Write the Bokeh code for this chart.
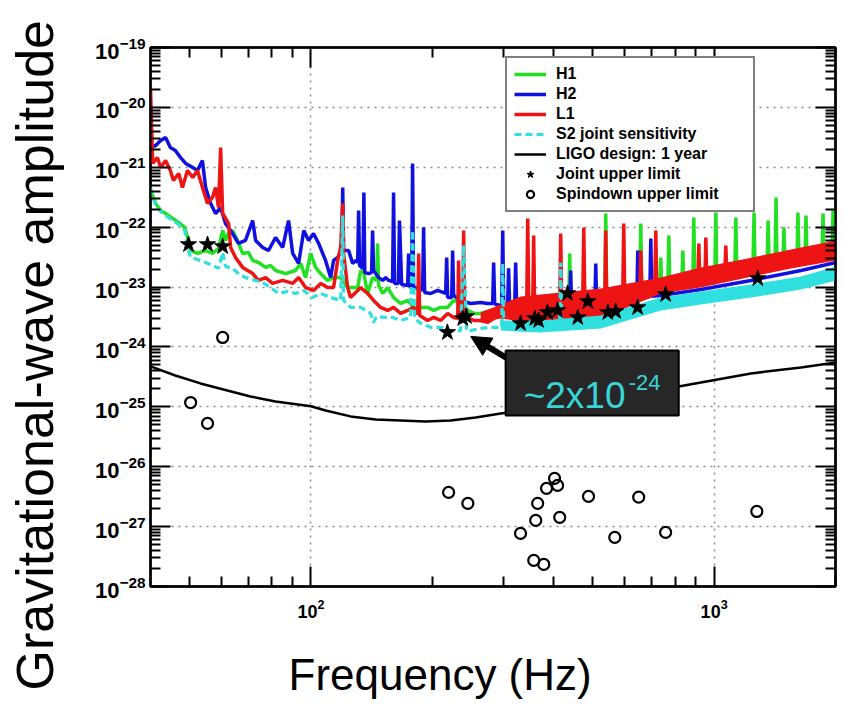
from bokeh.plotting import figure
from bokeh.models import (Range1d, FixedTicker, LogAxis, CustomJSTickFormatter, Legend,
                          LegendItem, Label, BoxAnnotation, Arrow, NormalHead, Title)
from bokeh.embed import file_html
from bokeh.resources import INLINE

# ---------------- data ----------------
h1_freq = [40.0, 41.2, 42.4, 43.6, 45.4, 47.0, 48.6, 49.7, 50.3, 52.3, 54.8, 57.0, 59.0, 60.4, 61.4, 62.5,
           63.9, 65.4, 67.7, 70.0, 71.7, 74.1, 77.2, 79.4, 81.7, 86.5, 91.6, 94.3, 97.0, 99.8, 102.7, 105.7,
           110.0, 113.8, 118.5, 123.3, 130.6, 132.8, 135.3, 138.2, 142.2, 145.5, 146.3, 147.2, 150.7, 155.0,
           160.3, 166.9, 173.7, 179.7, 187.1, 194.7, 201.5, 209.7, 218.3, 225.9, 235.1, 245.4, 253.3, 263.6,
           279.1, 295.5, 416.4, 436.0, 438.3, 440.8, 535.4, 538.5, 541.6, 654.0, 657.8, 661.6, 733.2, 737.4,
           741.6, 767.6, 772.0, 776.4, 831.5, 836.3, 841.1, 885.5, 890.5, 895.6, 1004, 1010, 1015, 1125, 1132,
           1138, 1248, 1256, 1263, 1353, 1361, 1369, 1416, 1424, 1432, 1482, 1490, 1499, 1605, 1614, 1624,
           1680, 1690, 1700, 1852, 1862, 1873, 1961, 1972, 2006]
h1_amp = [4.10e-22, 2.49e-22, 1.90e-22, 1.69e-22, 1.40e-22, 1.19e-22, 9.91e-23, 6.00e-23, 4.08e-23, 3.64e-23,
          4.08e-23, 3.64e-23, 4.41e-23, 8.81e-23, 6.00e-23, 8.16e-23, 8.81e-23, 6.48e-23, 3.64e-23, 3.78e-23,
          2.78e-23, 2.57e-23, 2.13e-23, 2.30e-23, 1.89e-23, 1.68e-23, 1.89e-23, 2.48e-23, 1.44e-23, 3.64e-23,
          2.13e-23, 1.68e-23, 1.29e-23, 1.44e-23, 1.44e-23, 9.8e-24, 9.8e-24, 1.89e-23, 1.68e-23, 7.81e-24,
          1.44e-23, 1.29e-23, 5.35e-23, 1.06e-23, 7.81e-24, 9.8e-24, 6.70e-24, 5.32e-24, 5.97e-24, 4.57e-24,
          4.57e-24, 4.57e-24, 4.07e-24, 4.57e-24, 4.57e-24, 5.97e-24, 5.32e-24, 4.07e-24, 3.63e-24, 3.63e-24,
          4.07e-24, 4.23e-24, 4.57e-24, 4.74e-24, 3.64e-23, 4.74e-24, 5.32e-24, 1.69e-22, 5.32e-24, 7.81e-24,
          1.15e-22, 7.81e-24, 9.8e-24, 3.12e-23, 9.8e-24, 1.06e-23, 7.27e-23, 1.06e-23, 1.15e-23, 4.08e-23,
          1.15e-23, 1.24e-23, 1.45e-22, 1.24e-23, 1.50e-23, 1.76e-22, 1.50e-23, 1.75e-23, 1.45e-22, 1.75e-23,
          1.96e-23, 1.76e-22, 1.96e-23, 2.30e-23, 1.29e-22, 2.30e-23, 2.48e-23, 3.13e-22, 2.48e-23, 2.57e-23,
          9.91e-23, 2.57e-23, 2.78e-23, 1.76e-22, 2.78e-23, 3.12e-23, 1.57e-22, 3.12e-23, 3.50e-23, 1.69e-22,
          3.50e-23, 3.78e-23, 1.90e-22, 3.78e-23]

h2_freq = [40.0, 41.2, 42.4, 43.6, 44.8, 46.1, 47.5, 48.9, 50.9, 52.3, 53.8, 54.8, 56.4, 58.0, 59.7, 61.4,
           63.9, 66.1, 68.8, 71.7, 72.9, 75.9, 78.5, 81.7, 85.1, 88.0, 90.1, 93.2, 96.0, 98.7, 101.5, 104.5,
           108.7, 111.9, 113.8, 116.5, 119.2, 119.9, 120.5, 124.0, 126.9, 129.1, 130.6, 131.3, 132.0, 134.5,
           135.3, 136.0, 139.0, 141.4, 142.2, 143.0, 147.2, 150.7, 153.2, 155.9, 159.4, 160.3, 161.2, 164.8,
           165.8, 167.9, 173.7, 174.7, 175.7, 177.7, 178.7, 179.7, 187.1, 189.2, 190.3, 191.4, 198.1, 206.2,
           215.8, 217.1, 218.3, 223.4, 224.6, 225.9, 235.1, 248.9, 263.6, 274.4, 282.3, 283.9, 285.6, 295.5,
           297.2, 299.0, 300.7, 307.4, 309.2, 311.1, 320.1, 321.9, 323.8, 371.4, 438.3, 440.8, 443.3, 505.7,
           508.6, 511.5, 642.9, 646.6, 650.3, 692.5, 696.5, 700.5, 737.4, 926.9, 1234, 1642, 2006]
h2_amp = [2.14e-21, 2.31e-21, 2.80e-21, 3.15e-21, 2.14e-21, 1.91e-21, 1.45e-21, 1.16e-21, 9.9e-22, 8.85e-22,
          1.30e-21, 4.60e-22, 2.49e-22, 1.69e-22, 2.13e-22, 1.15e-22, 7.85e-23, 5.35e-23, 6.00e-23, 1.29e-22,
          6.00e-23, 4.58e-23, 4.08e-23, 6.73e-23, 4.58e-23, 1.29e-22, 3.64e-23, 2.48e-23, 8.81e-23, 6.00e-23,
          7.85e-23, 5.35e-23, 2.78e-23, 1.44e-23, 2.78e-23, 3.12e-23, 4.08e-23, 4.60e-22, 4.08e-23, 4.08e-23,
          2.48e-23, 2.78e-23, 2.57e-23, 1.90e-22, 2.30e-23, 2.05e-23, 3.80e-22, 1.75e-23, 1.68e-23, 1.75e-23,
          8.81e-23, 1.89e-23, 1.44e-23, 1.29e-23, 1.44e-23, 1.29e-23, 1.24e-23, 3.80e-22, 1.15e-23, 1.15e-23,
          1.29e-22, 1.10e-23, 1.06e-23, 3.64e-23, 1.02e-23, 9.8e-24, 1.16e-21, 9.8e-24, 9.44e-24, 8.77e-24,
          9.91e-23, 8.12e-24, 7.81e-24, 8.77e-24, 7.81e-24, 3.12e-23, 6.70e-24, 6.70e-24, 4.08e-23, 7.24e-24,
          5.97e-24, 5.32e-24, 5.53e-24, 5.32e-24, 5.32e-24, 2.57e-23, 5.2e-24, 4.93e-24, 4.93e-24, 8.81e-23,
          4.9e-24, 4.74e-24, 2.05e-23, 4.74e-24, 4.57e-24, 2.57e-23, 4.57e-24, 4.07e-24, 4.23e-24, 1.89e-23,
          4.23e-24, 4.39e-24, 2.48e-23, 4.57e-24, 5.97e-24, 4.08e-23, 6.2e-24, 6.97e-24, 6.48e-23, 7.0e-24,
          7.24e-24, 9.12e-24, 1.29e-23, 1.89e-23, 2.57e-23]

l1_freq = [40.0, 40.5, 41.6, 42.4, 43.6, 44.8, 45.6, 47.0, 48.0, 49.4, 50.9, 52.3, 54.1, 55.4, 57.0, 58.0,
           59.0, 59.7, 60.4, 62.5, 63.2, 65.0, 67.7, 71.7, 74.1, 77.2, 80.3, 85.1, 90.1, 93.2, 97.0, 101.5,
           105.7, 110.0, 113.8, 116.5, 118.5, 119.9, 120.5, 123.3, 125.4, 130.6, 132.8, 138.2, 143.0, 148.9,
           155.0, 160.3, 166.9, 173.7, 179.7, 184.0, 185.0, 186.0, 194.7, 201.5, 209.7, 218.3, 225.9, 231.2,
           232.4, 233.7, 238.0, 239.2, 240.5, 243.3, 253.3, 263.6, 274.4, 284.2, 295.5, 304.1, 331.3, 342.9,
           344.9, 346.9, 354.8, 356.8, 358.8, 388.8, 414.0, 416.4, 418.8, 472.0, 475.0, 478.0, 523.3, 535.5,
           538.5, 541.5, 593.0, 596.8, 600.5, 654.0, 657.8, 661.6, 712.5, 716.6, 720.7, 912.0, 916.3, 920.6,
           949.0, 953.7, 958.4, 1063, 1069, 1075, 1234, 1642, 2006]
l1_amp = [2.15e-20, 1.16e-21, 1.45e-21, 9.9e-22, 1.30e-21, 8.85e-22, 6.03e-22, 7.88e-22, 4.60e-22, 8.85e-22,
          6.76e-22, 8.85e-22, 4.10e-22, 2.49e-22, 3.13e-22, 4.60e-22, 2.13e-22, 2.14e-21, 1.69e-22, 1.15e-22,
          4.58e-23, 3.12e-23, 2.13e-23, 1.68e-23, 1.29e-23, 1.44e-23, 1.15e-23, 1.29e-23, 1.15e-23, 1.44e-23,
          9.8e-24, 8.77e-24, 1.15e-23, 9.8e-24, 9.8e-24, 2.78e-23, 4.58e-23, 2.49e-22, 3.64e-23, 9.8e-24,
          6.70e-24, 8.77e-24, 9.8e-24, 7.81e-24, 5.97e-24, 4.57e-24, 4.07e-24, 4.57e-24, 3.63e-24, 4.07e-24,
          4.57e-24, 3.5e-24, 3.64e-23, 3.36e-24, 2.77e-24, 3.11e-24, 2.77e-24, 3.63e-24, 3.11e-24, 3.0e-24,
          2.78e-23, 2.9e-24, 2.77e-24, 8.81e-23, 3.0e-24, 3.11e-24, 2.77e-24, 2.77e-24, 2.57e-24, 2.99e-24,
          3.77e-24, 4.39e-24, 4.74e-24, 4.74e-24, 1.40e-22, 4.74e-24, 4.6e-24, 7.27e-23, 4.6e-24, 4.93e-24,
          4.8e-24, 7.85e-23, 4.8e-24, 5.0e-24, 9.91e-23, 5.0e-24, 5.32e-24, 5.5e-24, 8.81e-23, 5.6e-24,
          5.32e-24, 1.15e-22, 5.4e-24, 9.8e-24, 4.08e-23, 9.8e-24, 1.0e-23, 8.81e-23, 1.0e-23, 1.44e-23,
          5.35e-23, 1.44e-23, 1.44e-23, 6.73e-23, 1.44e-23, 1.75e-23, 4.95e-23, 1.75e-23, 2.13e-23, 3.12e-23,
          4.08e-23]

l1_band_freq = [263.6, 295.5, 331.3, 416.4, 523.3, 737.4, 926.9, 1212, 1551, 2006]
l1_band_lo = [2.57e-24, 2.99e-24, 2.67e-24, 2.57e-24, 2.99e-24, 7.81e-24, 9.8e-24, 1.44e-23, 2.05e-23, 2.78e-23]
l1_band_hi = [3.77e-24, 5.12e-24, 6.97e-24, 8.12e-24, 9.44e-24, 1.44e-23, 2.13e-23, 3.00e-23, 4.24e-23, 6.00e-23]

s2_freq = [40.0, 41.2, 42.4, 43.6, 45.4, 47.0, 48.6, 49.7, 50.3, 52.3, 54.8, 57.0, 59.0, 60.4, 61.4, 63.9,
           66.9, 70.0, 72.9, 75.9, 79.4, 83.1, 87.5, 91.6, 96.0, 100.9, 105.7, 111.9, 118.5, 119.9, 120.5,
           125.4, 132.8, 140.6, 143.0, 145.5, 152.3, 159.4, 166.9, 176.7, 178.7, 180.8, 187.1, 198.1, 209.7,
           222.1, 235.1, 239.2, 243.3, 248.9, 263.6, 279.1, 295.5, 297.2, 299.0, 300.7, 371.4, 414.0, 416.4,
           418.8, 523.3, 737.4, 926.9, 1234, 1642, 2006]
s2_amp = [4.60e-22, 2.30e-22, 1.83e-22, 1.57e-22, 1.29e-22, 1.11e-22, 8.81e-23, 4.08e-23, 3.12e-23, 2.89e-23,
          2.57e-23, 2.30e-23, 2.05e-23, 3.78e-23, 2.21e-23, 2.05e-23, 1.56e-23, 1.39e-23, 1.29e-23, 1.19e-23,
          9.8e-24, 7.81e-24, 8.44e-24, 7.81e-24, 8.77e-24, 6.70e-24, 7.81e-24, 6.70e-24, 5.97e-24, 1.57e-22,
          5.97e-24, 4.57e-24, 4.57e-24, 3.63e-24, 2.57e-24, 3.23e-24, 3.11e-24, 3.11e-24, 2.77e-24, 3.11e-24,
          8.81e-23, 2.99e-24, 2.48e-24, 2.13e-24, 2.13e-24, 1.88e-24, 1.88e-24, 4.95e-23, 1.88e-24, 1.88e-24,
          2.04e-24, 2.13e-24, 2.13e-24, 2.20e-24, 2.48e-23, 2.20e-24, 2.20e-24, 2.29e-24, 2.57e-23, 2.29e-24,
          2.57e-24, 5.32e-24, 6.70e-24, 8.77e-24, 1.19e-23, 1.68e-23]

s2_band_freq = [295.5, 371.4, 523.3, 737.4, 926.9, 1234, 1642, 2006]
s2_band_lo = [1.88e-24, 1.74e-24, 2.04e-24, 4.07e-24, 5.12e-24, 6.70e-24, 9.12e-24, 1.29e-23]
s2_band_hi = [2.77e-24, 2.77e-24, 3.36e-24, 6.70e-24, 8.44e-24, 1.10e-23, 1.50e-23, 2.21e-23]

design_freq = [40, 46.1, 53.2, 70.8, 81.7, 100, 108.7, 125.4, 144.7, 166.9, 192.5, 222.1, 256.2, 295.5,
               393.2, 523.3, 696.5, 926.9, 1234, 1642, 2006]
design_amp = [4.73e-25, 3.34e-25, 2.46e-25, 1.49e-25, 1.23e-25, 1.02e-25, 8.71e-26, 6.92e-26, 6.16e-26,
              5.93e-26, 5.70e-26, 5.93e-26, 6.65e-26, 7.76e-26, 9.77e-26, 1.28e-25, 1.81e-25, 2.55e-25,
              3.61e-25, 4.55e-25, 5.51e-25]

star_freq = [49.7, 55.4, 60.4, 218, 238, 243, 331, 359, 367, 386, 409, 433, 459, 486, 545, 570, 646, 758, 1283]
star_amp = [5.14e-23, 5.14e-23, 4.76e-23, 1.75e-24, 2.99e-24, 3.23e-24, 2.47e-24, 2.99e-24, 2.77e-24,
            3.77e-24, 4.07e-24, 7.82e-24, 3.10e-24, 5.75e-24, 3.77e-24, 3.92e-24, 4.56e-24, 7.52e-24, 1.39e-23]

spin_freq = [50.3, 55.4, 60.4, 219.5, 245, 331, 357, 361, 365, 378, 384, 402, 409, 414, 488, 567, 650, 758, 1276]
spin_amp = [1.18e-25, 5.28e-26, 1.44e-24, 3.72e-27, 2.44e-27, 7.69e-28, 2.73e-28, 1.27e-27, 2.44e-27,
            2.34e-28, 4.35e-27, 6.38e-27, 4.87e-27, 1.43e-27, 3.19e-27, 6.6e-28, 3.1e-27, 8.0e-28, 1.79e-27]

legend_labels = ["H1", "H2", "L1", "S2 joint sensitivity", "LIGO design: 1 year",
                 "Joint upper limit", "Spindown upper limit"]
x_major_ticks = [100, 1000]
x_minor_ticks = [50, 60, 70, 80, 90, 200, 300, 400, 500, 600, 700, 800, 900, 2000]
y_decades = list(range(-28, -18))
x_title = "Frequency (Hz)"
y_title = "Gravitational-wave amplitude"
callout_value = "~2x10"
callout_expo = "-24"

# ---------------- styles ----------------
FONT = "Liberation Sans"
GREEN = "#22e022"
BLUE = "#1010e0"
RED = "#ee1414"
CYAN = "#30e0e0"

p = figure(width=843, height=704, x_axis_type="log", y_axis_type="log",
           x_range=Range1d(40, 2000), y_range=Range1d(1e-28, 1e-19),
           output_backend="svg", toolbar_location=None,
           min_border_left=150, min_border_right=8, min_border_top=47, min_border_bottom=118)
p.outline_line_color = "black"
p.outline_line_width = 2.5
p.background_fill_color = "white"
p.border_fill_color = "white"

xt = FixedTicker(ticks=x_major_ticks, minor_ticks=x_minor_ticks)
y_major = [10.0 ** e for e in y_decades]
y_minor = [k * 10.0 ** e for e in y_decades[:-1] for k in range(2, 10)]
yt = FixedTicker(ticks=y_major, minor_ticks=y_minor)
p.xaxis.ticker = xt
p.xgrid.ticker = xt
p.yaxis.ticker = yt
p.ygrid.ticker = yt

for g in (p.xgrid, p.ygrid):
    g.grid_line_color = "#8a8a8a"
    g.grid_line_dash = "2 5"
    g.grid_line_width = 1.5


def style_axis(ax):
    ax.major_tick_in = 20
    ax.major_tick_out = 0
    ax.minor_tick_in = 10
    ax.minor_tick_out = 0
    ax.major_tick_line_width = 2
    ax.minor_tick_line_width = 2
    ax.major_tick_line_color = "black"
    ax.minor_tick_line_color = "black"
    ax.axis_line_width = 2
    ax.axis_line_color = "black"
    ax.major_label_text_font = FONT
    ax.major_label_text_font_style = "bold"
    ax.major_label_text_color = "black"


xa = p.xaxis[0]
ya = p.yaxis[0]
style_axis(xa)
style_axis(ya)
xa.major_label_text_font_size = "18px"
ya.major_label_text_font_size = "22px"
xa.major_label_standoff = 12
ya.major_label_standoff = 5

blank = CustomJSTickFormatter(code="return ''")
top = LogAxis(ticker=xt, formatter=blank)
right = LogAxis(ticker=yt, formatter=blank)
style_axis(top)
style_axis(right)
p.add_layout(top, "above")
p.add_layout(right, "right")

# spacing panels, then the axis titles placed off-centre like the reference
p.add_layout(Title(text=" ", text_font_size="10px", standoff=14), "below")
p.add_layout(Title(text=x_title, align="left", offset=138, standoff=0, text_font=FONT,
                   text_font_size="44px", text_font_style="normal", text_color="black"), "below")
p.add_layout(Title(text=" ", text_font_size="10px", standoff=15), "left")
p.add_layout(Title(text=y_title, align="left", offset=-104, standoff=0, text_font=FONT,
                   text_font_size="52px", text_font_style="normal", text_color="black"), "left")

# ---------------- glyphs ----------------
r_h1 = p.line(h1_freq, h1_amp, line_color=GREEN, line_width=3.5)
r_h2 = p.line(h2_freq, h2_amp, line_color=BLUE, line_width=3.5)
p.varea(x=l1_band_freq, y1=l1_band_lo, y2=l1_band_hi, fill_color=RED)
r_l1 = p.line(l1_freq, l1_amp, line_color=RED, line_width=3.5)
p.varea(x=s2_band_freq, y1=s2_band_lo, y2=s2_band_hi, fill_color=CYAN)
r_s2 = p.line(s2_freq, s2_amp, line_color=CYAN, line_width=3.2, line_dash="7 4")
r_design = p.line(design_freq, design_amp, line_color="black", line_width=2.5)
r_star = p.scatter(star_freq, star_amp, marker="star", size=17, fill_color="black", line_color="black")
r_spin = p.scatter(spin_freq, spin_amp, marker="circle", size=11, fill_color=None,
                   line_color="black", line_width=2.2)

legend = Legend(items=[LegendItem(label=t, renderers=[r]) for t, r in
                       zip(legend_labels, [r_h1, r_h2, r_l1, r_s2, r_design, r_star, r_spin])],
                location=(355, 374), orientation="vertical",
                border_line_color="black", border_line_width=2, background_fill_alpha=1,
                padding=7, spacing=2, margin=0, glyph_width=32, glyph_height=18, label_height=18,
                label_width=190, label_standoff=10, label_text_font=FONT, label_text_font_size="16px",
                label_text_font_style="bold", label_text_color="black")
p.add_layout(legend)

# ---------------- callout ----------------
arrow = Arrow(end=NormalHead(size=20, fill_color="black", line_color="black"),
              x_start=313, y_start=5.95e-25, x_end=249, y_end=1.50e-24,
              line_width=6, line_color="black")
p.add_layout(arrow)
box = BoxAnnotation(left=304, right=817, bottom=7.18e-26, top=8.75e-25,
                    fill_color="#272727", fill_alpha=1, line_color="black", line_width=2, line_alpha=1)
p.add_layout(box)
p.add_layout(Label(x=337, y=1.55e-25, text=callout_value, text_font=FONT, text_font_size="37px",
                   text_color="#3ad4d8", text_baseline="alphabetic"))
p.add_layout(Label(x=614, y=2.55e-25, text=callout_expo, text_font=FONT, text_font_size="22px",
                   text_color="#3ad4d8", text_baseline="alphabetic"))

open("out.html", "w").write(file_html(p, INLINE))
